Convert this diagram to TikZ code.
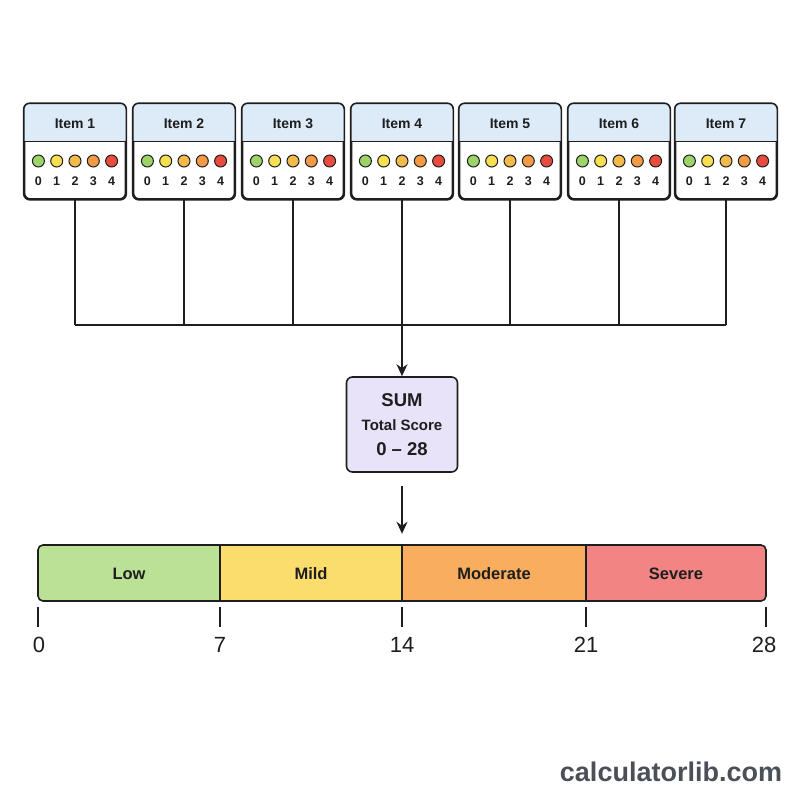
\documentclass[tikz,border=0pt]{standalone}
\usepackage{fontspec}
\setmainfont{Liberation Sans}
\usetikzlibrary{arrows.meta}
\definecolor{hdr}{HTML}{DDEBF8}
\definecolor{sumfill}{HTML}{E8E3F8}
\definecolor{cg}{HTML}{9ED36A}
\definecolor{cy}{HTML}{F7DF52}
\definecolor{co}{HTML}{F5BA4E}
\definecolor{cd}{HTML}{F29A45}
\definecolor{cr}{HTML}{E84C3F}
\definecolor{lowc}{HTML}{BBE196}
\definecolor{mildc}{HTML}{FBDD6E}
\definecolor{modc}{HTML}{F8AE5E}
\definecolor{sevc}{HTML}{F28484}
\definecolor{wm}{HTML}{4A4F58}
\definecolor{ln}{HTML}{1E1E1E}
\tikzset{
  itembox/.style={rectangle, rounded corners=6pt, draw=ln, line width=1.6pt, fill=white, minimum width=101pt, minimum height=95pt, inner sep=0pt},
  itemlbl/.style={font=\fontsize{14}{16}\selectfont\bfseries, text=ln, inner sep=0pt},
  dot/.style={circle, draw=ln, line width=1pt, minimum size=12pt, inner sep=0pt},
  num/.style={font=\fontsize{12.5}{14}\selectfont\bfseries, text=ln, inner sep=0pt, text height=9pt, text depth=0pt},
  conn/.style={draw=ln, line width=1.6pt},
  arr/.style={draw=ln, line width=1.6pt, -{Stealth[length=12pt,width=11pt]}},
  sumbox/.style={rectangle, rounded corners=6pt, draw=ln, line width=1.6pt, fill=sumfill, minimum width=111pt, minimum height=95pt, align=center, inner sep=0pt, text=ln, font=\fontsize{18.5}{24.5}\selectfont\bfseries},
  seg/.style={rectangle, minimum height=56pt, inner sep=0pt, font=\fontsize{16.5}{18}\selectfont\bfseries, text=ln, text height=12pt, text depth=0pt},
  tick/.style={draw=ln, line width=1.6pt},
  ticklbl/.style={font=\fontsize{22}{24}\selectfont, text=ln, inner sep=0pt},
}
\begin{document}
\begin{tikzpicture}[x=1pt,y=-1pt]
\useasboundingbox[fill=white] (0,0) rectangle (800,800);
% items
\foreach \i/\cx in {1/75,2/184,3/293,4/402,5/510,6/619,7/726}{
  \node[itembox] (item\i) at (\cx,151.5) {};
  \begin{scope}
    \clip[rounded corners=6pt] (item\i.south west) rectangle (item\i.north east);
    \fill[hdr] (item\i.north west) rectangle ([yshift=-38pt]item\i.north east);
  \end{scope}
  \draw[line width=1.4pt, draw=ln] ([yshift=-38pt]item\i.north west) -- ([yshift=-38pt]item\i.north east);
  \draw[line width=1.6pt, draw=ln, rounded corners=6pt] (item\i.south west) rectangle (item\i.north east);
  \node[itemlbl] (lbl\i) at (\cx,124) {Item \i};
  \foreach \j/\c in {0/cg,1/cy,2/co,3/cd,4/cr}{
    \node[dot, fill=\c] (d\i-\j) at (\cx-36.6+\j*18.3,161) {};
    \node[num] (n\i-\j) at (\cx-36.6+\j*18.3,181) {\j};
  }
}
% bus
\coordinate (bus) at (0,325);
\foreach \i in {1,2,3,5,6,7}{
  \draw[conn] (item\i.south) -- (item\i.south |- bus);
}
\draw[conn] (item1.south |- bus) -- (item7.south |- bus);
% sum
\node[sumbox] (sum) at (item4.south |- 0,424.5) {SUM\\{\fontsize{15}{18}\selectfont\bfseries Total Score}\\0 – 28};
\draw[arr] (item4.south) -- (sum.north);
\coordinate (a2s) at ([yshift=-13pt]sum.south);
\coordinate (a2e) at ([yshift=-61pt]sum.south);
\draw[arr] (a2s) -- (a2e);
% bar
\begin{scope}
  \clip[rounded corners=5pt] (38,545) rectangle (766,601);
  \node[seg, fill=lowc, minimum width=182pt] (low) at (129,573) {Low};
  \node[seg, fill=mildc, minimum width=182pt] (mild) at (311,573) {Mild};
  \node[seg, fill=modc, minimum width=184pt] (mod) at (494,573) {Moderate};
  \node[seg, fill=sevc, minimum width=180pt] (sev) at (676,573) {Severe};
\end{scope}
\draw[line width=1.6pt, draw=ln] (low.north east) -- (low.south east);
\draw[line width=1.6pt, draw=ln] (mild.north east) -- (mild.south east);
\draw[line width=1.6pt, draw=ln] (mod.north east) -- (mod.south east);
\draw[line width=1.6pt, draw=ln, rounded corners=5pt] (38,545) rectangle (766,601);
% ticks
\foreach \x/\v/\n/\lx in {38/0/t0/39,220/7/t7/220,402/14/t14/402,586/21/t21/586,766/28/t28/764}{
  \coordinate (\n a) at (\x,607);
  \coordinate (\n b) at (\x,627);
  \draw[tick] (\n a) -- (\n b);
  \node[ticklbl] (\n l) at (\lx,645) {\v};
}
% watermark
\node[font=\fontsize{27}{30}\selectfont\bfseries, text=wm, inner sep=0pt] (wmk) at (671,772) {calculatorlib.com};
\end{tikzpicture}
\end{document}
